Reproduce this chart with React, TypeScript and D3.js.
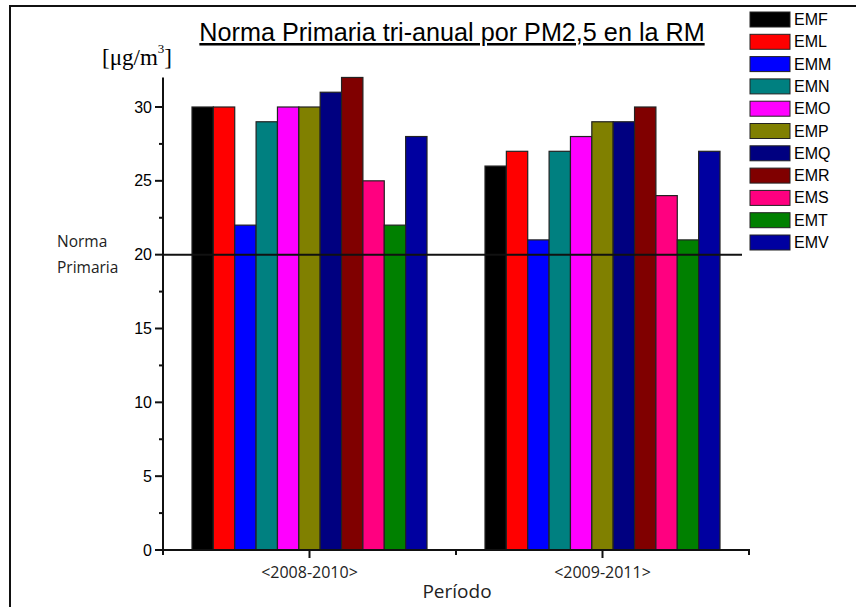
import React from "react";
import * as d3 from "d3";

const periods = ["<2008-2010>", "<2009-2011>"];
const stations = ["EMF", "EML", "EMM", "EMN", "EMO", "EMP", "EMQ", "EMR", "EMS", "EMT", "EMV"];
const values2008 = [30, 30, 22, 29, 30, 30, 31, 32, 25, 22, 28];
const values2009 = [26, 27, 21, 27, 28, 29, 29, 30, 24, 21, 27];
const colors = ["#000000", "#ff0000", "#0000ff", "#008080", "#ff00ff", "#808000", "#000080", "#800000", "#ff0080", "#008000", "#0000a0"];
const majorTicks = [0, 5, 10, 15, 20, 25, 30];
const minorTicks = [2.5, 7.5, 12.5, 17.5, 22.5, 27.5];
const normValue = 20;

export default function App() {
  const W = 856, H = 607;
  const x0 = 163, x1 = 749, yBase = 550;
  const y = d3.scaleLinear().domain([0, 30]).range([yBase, 107]);
  const xAxis = d3.scaleLinear().domain([0, 1]).range([x0, x1]);
  const xc = d3.scalePoint().domain(periods).range([xAxis(0.25), xAxis(0.75)]);
  const groupWidth = 235;
  const xb = d3.scaleBand().domain(stations).range([-groupWidth / 2, groupWidth / 2]).padding(0);
  const series = [values2008, values2009];
  const sans = "'Liberation Sans', Arial, sans-serif";
  const calib = "'Open Sans', 'Noto Sans', sans-serif";
  const yTop = y(32);

  return (
    <svg width={W} height={H} style={{ position: "absolute", left: 0, top: 0, background: "#fff" }}>
      <rect x={0} y={0} width={W} height={H} fill="#fff" />
      <path d={`M10,${H + 5} V6 H${W + 5}`} fill="none" stroke="#111" strokeWidth={2} />
      {/* title */}
      <text x={452} y={41} textAnchor="middle" fontFamily={sans} fontSize={25.2} fill="#000" textDecoration="underline">
        Norma Primaria tri-anual por PM2,5 en la RM
      </text>
      {/* unit */}
      <text x={102} y={65} fontFamily="'Liberation Serif', 'Times New Roman', serif" fontSize={23} fill="#000">
        [μg/m<tspan dy={-12} fontSize={13}>3</tspan><tspan dy={12}>]</tspan>
      </text>
      {/* bars */}
      {periods.map((p, pi) =>
        stations.map((s, si) => {
          const v = series[pi][si];
          const bx = (xc(p) as number) + (xb(s) as number);
          return (
            <rect key={p + s} x={bx} y={y(v)} width={xb.bandwidth()} height={yBase - y(v)}
              fill={colors[si]} stroke="#222" strokeWidth={1.2} />
          );
        })
      )}
      {/* norm line */}
      <line x1={x0} x2={742} y1={y(normValue)} y2={y(normValue)} stroke="#111" strokeWidth={2} />
      <text x={57} y={247} fontFamily={calib} fontSize={15.5} fill="#222">Norma</text>
      <text x={57} y={273} fontFamily={calib} fontSize={15.5} fill="#222">Primaria</text>
      {/* y axis */}
      <line x1={x0} x2={x0} y1={yTop} y2={yBase + 1} stroke="#111" strokeWidth={2} />
      {majorTicks.map((t) => (
        <g key={"m" + t}>
          <line x1={x0 - 8} x2={x0} y1={y(t)} y2={y(t)} stroke="#111" strokeWidth={2} />
          <text x={x0 - 11} y={y(t) + 5.5} textAnchor="end" fontFamily={sans} fontSize={16} fill="#000">{t}</text>
        </g>
      ))}
      {minorTicks.map((t) => (
        <line key={"n" + t} x1={x0 - 4} x2={x0} y1={y(t)} y2={y(t)} stroke="#111" strokeWidth={2} />
      ))}
      {/* x axis */}
      <line x1={x0 - 1} x2={x1 + 1} y1={yBase} y2={yBase} stroke="#111" strokeWidth={2} />
      {[0, 0.5, 1].map((t) => (
        <line key={"xt" + t} x1={xAxis(t)} x2={xAxis(t)} y1={yBase} y2={yBase + 5} stroke="#111" strokeWidth={2} />
      ))}
      {periods.map((p) => (
        <g key={"xl" + p}>
          <line x1={xc(p) as number} x2={xc(p) as number} y1={yBase} y2={yBase + 8} stroke="#111" strokeWidth={2} />
          <text x={xc(p) as number} y={578} textAnchor="middle" fontFamily={calib} fontSize={16} fill="#222">{p}</text>
        </g>
      ))}
      <text x={457} y={598} textAnchor="middle" fontFamily={calib} fontSize={19} fill="#222">Período</text>
      {/* legend */}
      {stations.map((s, i) => {
        const ly = 12 + i * 22.3;
        return (
          <g key={"lg" + s}>
            <rect x={750} y={ly} width={40} height={15} fill={colors[i]} stroke="#222" strokeWidth={1} />
            <text x={794} y={ly + 13} fontFamily={sans} fontSize={16} fill="#000">{s}</text>
          </g>
        );
      })}
    </svg>
  );
}
